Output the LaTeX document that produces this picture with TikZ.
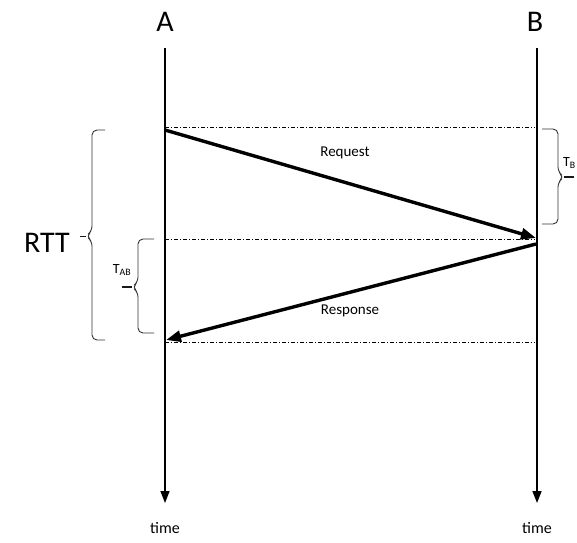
\documentclass[tikz,border=0pt]{standalone}
\usepackage{fontspec}
\setmainfont{Carlito}
\usetikzlibrary{arrows.meta}

\tikzset{
  host/.style={font=\fontsize{30}{30}\selectfont},
  msgtext/.style={font=\fontsize{15}{15}\selectfont},
  timetext/.style={font=\fontsize{16}{16}\selectfont},
  smalltext/.style={font=\fontsize{14}{14}\selectfont},
  timeline/.style={line width=1.6pt, -{Triangle[length=12pt,width=9pt]}},
  msg/.style={line width=3.4pt, -{Triangle[length=15pt,width=11pt]}},
  guide/.style={line width=0.6pt, dash pattern=on 4pt off 2pt on 1pt off 2pt},
  curly/.style={line width=0.9pt, rounded corners=5pt, black!80},
  bracetick/.style={line width=#1, black!90},
}

\begin{document}
\begin{tikzpicture}[x=1pt,y=-1pt]
			\useasboundingbox (0,0) rectangle (577,542);
			
			% hosts and their time axes
			\node[host] (A) at (165,22) {A};
			\node[host] (B) at (535,22) {B};
			\coordinate (Atop) at (165,48);
			\coordinate (Abot) at (165,503);
			\coordinate (Btop) at (537,48);
			\coordinate (Bbot) at (537,503);
			\node[timetext] (timeA) at (165,528) {time};
			\node[timetext] (timeB) at (537,528) {time};
			\draw[timeline] (Atop) to (Abot);
			\draw[timeline] (Btop) to (Bbot);
			
			% guide lines
			\coordinate (g1a) at (165,127);
			\coordinate (g1b) at (535,127);
			\coordinate (g2a) at (165,239);
			\coordinate (g2b) at (535,239);
			\coordinate (g3a) at (165,342);
			\coordinate (g3b) at (535,342);
			\draw[guide] (g1a) to (g1b);
			\draw[guide] (g2a) to (g2b);
			\draw[guide] (g3a) to (g3b);
			
			% messages
			\coordinate (reqA) at (165,130);
			\coordinate (reqB) at (536,238);
			\coordinate (resB) at (536,244);
			\coordinate (resA) at (166,340);
			\draw[msg] (reqA) to (reqB);
			\draw[msg] (resB) to (resA);
			\node[msgtext] (req) at (345,153) {Request};
			\node[msgtext] (res) at (350,311) {Response};
			
			% braces
			\coordinate (rttTip) at (86,236);
			\coordinate (tabTip) at (132,287);
			\coordinate (tbTip) at (564,177);
			\draw[curly] (105,130) -- (92,130) -- (92,231) -- (rttTip) -- (92,241) -- (92,340) -- (105,340);
			\draw[curly] (154,239) -- (138,239) -- (138,282) -- (tabTip) -- (138,292) -- (138,333) -- (154,333);
			\draw[curly] (542,129) -- (558,129) -- (558,172) -- (tbTip) -- (558,182) -- (558,224) -- (542,224);
			\draw[bracetick=0.9pt] (rttTip) -- +(-6,0);
			\draw[bracetick=1.8pt] (tabTip) -- +(-10,0);
			\draw[bracetick=1.2pt] (tbTip) -- +(10,0);
			\node[host] (rtt) at (47,243) {RTT};
			\node[smalltext] (tab) at (122,270) {T\textsubscript{AB}};
			\node[smalltext, anchor=east, inner xsep=1pt] (tb) at (577,163) {T\textsubscript{B}};
		\end{tikzpicture}
\end{document}
